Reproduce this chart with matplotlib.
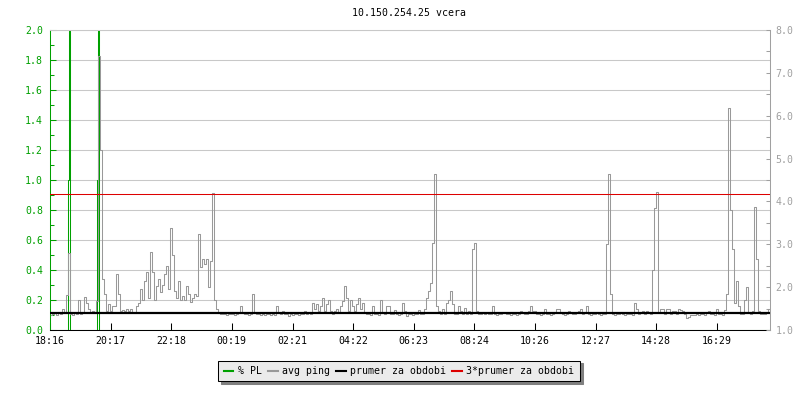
import matplotlib
matplotlib.use('Agg')
from matplotlib import pyplot as plt
from matplotlib.lines import Line2D
import numpy as np

title = '10.150.254.25 vcera'

# x axis: minutes from 18:16, one day
span_minutes = 1440
tick_minutes = [0, 121, 242, 363, 485, 606, 727, 848, 970, 1091, 1212, 1333]
tick_labels = ['18:16', '20:17', '22:18', '00:19', '02:21', '04:22',
               '06:23', '08:24', '10:26', '12:27', '14:28', '16:29']

# avg ping [ms], one sample every 4 minutes
step_minutes = 4
avg_ping = [
    1.36, 1.38, 1.40, 1.34, 1.42, 1.37, 1.49, 1.40, 1.82, 2.80,
    1.38, 1.36, 1.40, 1.37, 1.70, 1.38, 1.42, 1.77, 1.63, 1.50,
    1.42, 1.45, 1.40, 1.67, 7.40, 5.20, 2.20, 1.84, 1.45, 1.60,
    1.45, 1.56, 1.56, 2.30, 1.84, 1.45, 1.47, 1.45, 1.50, 1.45,
    1.50, 1.42, 1.40, 1.56, 1.63, 1.95, 1.70, 2.15, 2.36, 1.74,
    2.82, 2.36, 1.70, 2.02, 2.19, 1.88, 2.05, 2.30, 2.50, 1.95,
    3.38, 2.75, 1.91, 1.74, 2.15, 1.70, 1.80, 1.70, 2.02, 1.84,
    1.66, 1.74, 1.84, 1.80, 3.24, 2.47, 2.65, 2.54, 2.65, 2.00,
    2.60, 4.20, 1.70, 1.50, 1.40, 1.38, 1.37, 1.38, 1.36, 1.38,
    1.37, 1.38, 1.36, 1.38, 1.40, 1.56, 1.40, 1.37, 1.38, 1.36,
    1.38, 1.84, 1.42, 1.38, 1.37, 1.36, 1.38, 1.36, 1.38, 1.37,
    1.36, 1.38, 1.36, 1.56, 1.40, 1.38, 1.45, 1.37, 1.38, 1.33,
    1.37, 1.36, 1.38, 1.37, 1.36, 1.38, 1.37, 1.45, 1.38, 1.42,
    1.37, 1.63, 1.50, 1.60, 1.45, 1.56, 1.74, 1.45, 1.60, 1.70,
    1.45, 1.38, 1.45, 1.50, 1.42, 1.56, 1.67, 2.02, 1.74, 1.45,
    1.70, 1.56, 1.45, 1.60, 1.74, 1.50, 1.63, 1.42, 1.37, 1.38,
    1.36, 1.56, 1.37, 1.38, 1.36, 1.70, 1.42, 1.37, 1.56, 1.56,
    1.38, 1.37, 1.47, 1.38, 1.36, 1.37, 1.63, 1.45, 1.32, 1.37,
    1.38, 1.36, 1.37, 1.38, 1.47, 1.38, 1.37, 1.50, 1.74, 1.91,
    2.10, 3.03, 4.64, 1.56, 1.45, 1.38, 1.50, 1.37, 1.63, 1.70,
    1.91, 1.60, 1.38, 1.37, 1.56, 1.45, 1.38, 1.52, 1.37, 1.45,
    1.38, 2.89, 3.03, 1.45, 1.37, 1.38, 1.42, 1.37, 1.40, 1.38,
    1.37, 1.56, 1.38, 1.36, 1.37, 1.38, 1.42, 1.40, 1.37, 1.38,
    1.36, 1.38, 1.37, 1.36, 1.38, 1.45, 1.42, 1.37, 1.38, 1.45,
    1.56, 1.45, 1.45, 1.38, 1.37, 1.36, 1.38, 1.50, 1.37, 1.38,
    1.36, 1.38, 1.42, 1.50, 1.50, 1.42, 1.37, 1.36, 1.38, 1.45,
    1.42, 1.37, 1.38, 1.42, 1.45, 1.50, 1.37, 1.42, 1.56, 1.38,
    1.36, 1.37, 1.38, 1.42, 1.37, 1.36, 1.38, 1.37, 3.00, 4.64,
    1.84, 1.38, 1.36, 1.37, 1.38, 1.42, 1.37, 1.36, 1.38, 1.37,
    1.38, 1.36, 1.63, 1.50, 1.37, 1.42, 1.45, 1.38, 1.45, 1.42,
    1.38, 2.40, 3.84, 4.22, 1.40, 1.50, 1.50, 1.38, 1.48, 1.48,
    1.38, 1.45, 1.45, 1.38, 1.50, 1.47, 1.45, 1.38, 1.27, 1.31,
    1.34, 1.36, 1.35, 1.37, 1.36, 1.38, 1.37, 1.36, 1.43, 1.45,
    1.37, 1.38, 1.36, 1.50, 1.38, 1.37, 1.36, 1.47, 1.84, 6.18,
    3.80, 2.89, 1.63, 2.15, 1.56, 1.38, 1.38, 1.70, 2.00, 1.42,
    1.38, 1.45, 3.87, 2.65, 1.45, 1.38, 1.37, 1.38, 1.42, 1.50,
]

# packet loss [%] as steps
pl_minutes = [0, 36, 38, 39, 94, 96, 97, 1440]
pl_values = [0, 1.0, 2.4, 0, 1.0, 2.4, 0, 0]

prumer = 1.39

green = '#00a000'
gray = '#999999'
grid_gray = '#c8c8c8'
axis_gray = '#a0a0a0'
red = '#dd0000'

plt.rcParams['font.family'] = 'DejaVu Sans Mono'
plt.rcParams['font.size'] = 7.1

fig = plt.figure(figsize=(8, 4), dpi=100)
ax = fig.add_axes([0.0625, 0.175, 0.9, 0.75])
ax2 = ax.twinx()

ping_t = np.arange(len(avg_ping)) * step_minutes + step_minutes / 2

ax.step(pl_minutes, pl_values, where='post', color=green, lw=0.75)
ax2.plot(ping_t, avg_ping, color=gray, lw=0.75, drawstyle='steps-mid')
ax2.axhline(prumer, color='black', lw=1.6)
ax2.axhline(3 * prumer, color=red, lw=0.75)

ax.set_xlim(0, span_minutes)
ax.set_ylim(0, 2)
ax2.set_ylim(1, 8)

ax.set_xticks(tick_minutes, tick_labels)
ax.set_yticks(np.arange(0, 2.01, 0.2), ['%.1f' % v for v in np.arange(0, 2.01, 0.2)])
ax.set_yticks(np.arange(0.1, 2.0, 0.2), minor=True)
ax2.set_yticks(np.arange(1, 8.01, 1), ['%.1f' % v for v in np.arange(1, 8.01, 1)])
ax2.set_yticks(np.arange(1.5, 8, 1), minor=True)

ax.yaxis.grid(True, color=grid_gray, lw=0.75)
ax.set_axisbelow(True)

ax.tick_params(axis='x', direction='in', length=5, width=0.75, color='black', pad=4)
ax.tick_params(axis='y', which='major', direction='in', length=4, width=0.75,
               color=green, labelcolor=green, pad=5)
ax.tick_params(axis='y', which='minor', direction='in', length=3, width=0.75, color=green)
ax2.tick_params(axis='y', which='major', direction='in', length=3, width=0.75,
                color=axis_gray, labelcolor=axis_gray, pad=4)
ax2.tick_params(axis='y', which='minor', direction='in', length=3, width=0.75, color=axis_gray)

for s in ax.spines.values():
    s.set_linewidth(0.75)
ax.spines['left'].set_color(green)
ax.spines['bottom'].set_color('black')
ax.spines['top'].set_color(grid_gray)
ax.spines['right'].set_visible(False)
for name in ['left', 'top', 'bottom']:
    ax2.spines[name].set_visible(False)
ax2.spines['right'].set_color(axis_gray)
ax2.spines['right'].set_linewidth(0.75)

fig.text(409 / 800, 1 - 13.5 / 400, title, ha='center', va='center')

handles = [Line2D([], [], color=c, lw=1.5) for c in [green, gray, 'black', red]]
labels = ['% PL', 'avg ping', 'prumer za obdobi', '3*prumer za obdobi']
leg = fig.legend(handles, labels, loc='center', bbox_to_anchor=(399 / 800, 1 - 371 / 400),
                 ncol=4, frameon=True, fancybox=False, edgecolor='black',
                 facecolor='#ebebeb', framealpha=1,
                 shadow={'facecolor': '#808080', 'edgecolor': '#808080', 'alpha': 1},
                 handlelength=1.0, handletextpad=0.45, columnspacing=0.6,
                 borderpad=0.55, borderaxespad=0)
leg.get_frame().set_linewidth(0.75)

fig.savefig('out.png', dpi=100)
